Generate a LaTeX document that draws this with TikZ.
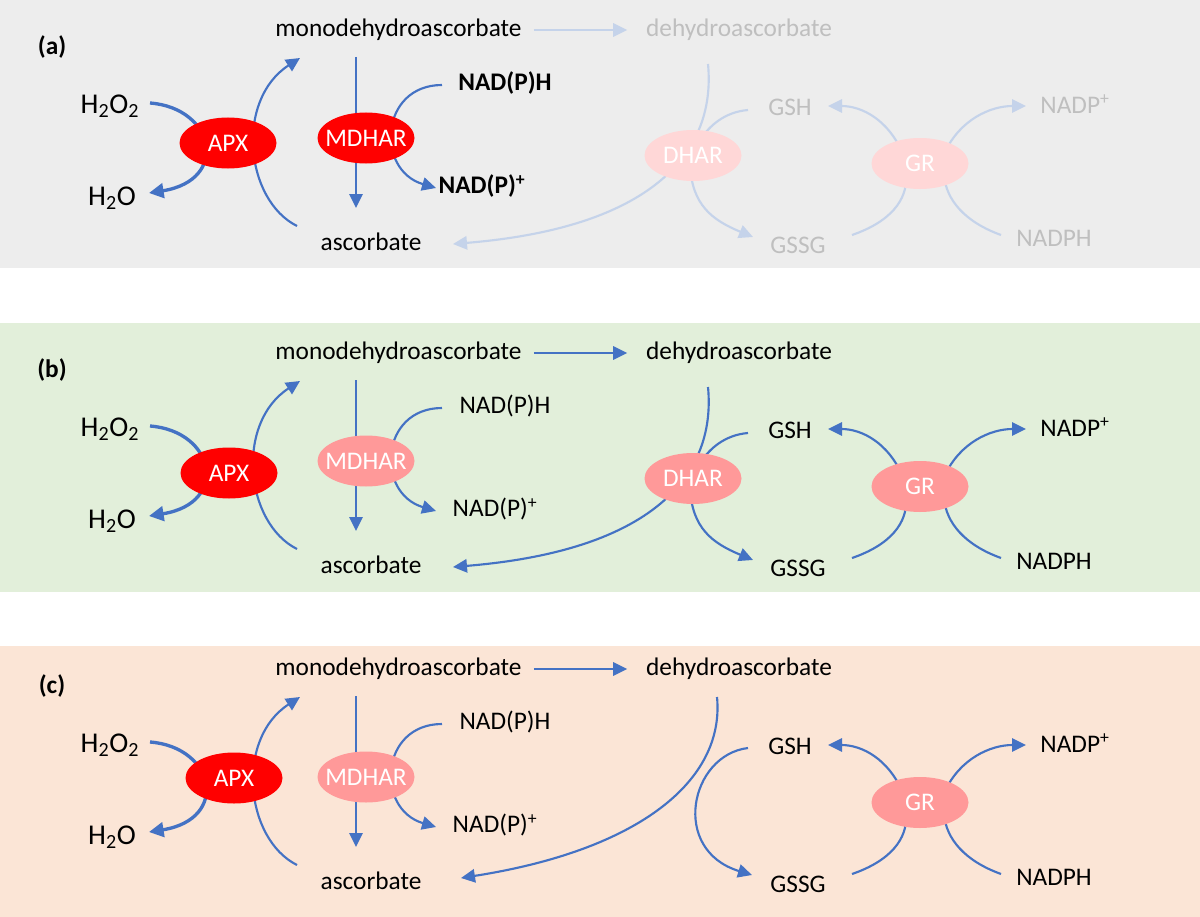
\documentclass[tikz,border=0pt]{standalone}
\usepackage{fontspec}
\setmainfont{Carlito}
\usetikzlibrary{arrows.meta,shapes.geometric}
\definecolor{blu}{HTML}{4472C4}
\definecolor{fblu}{HTML}{C5D3EA}
\definecolor{ftxt}{HTML}{BFBFBF}
\definecolor{redA}{HTML}{FF0000}
\definecolor{pinkA}{HTML}{FF9999}
\definecolor{fpink}{HTML}{FFD7D7}
\definecolor{bga}{HTML}{EDEDED}
\definecolor{bgb}{HTML}{E2EFDA}
\definecolor{bgc}{HTML}{FBE5D6}
\newcommand\fs{\fontsize{19}{22}\selectfont}
\newcommand\fbig{\fontsize{21.5}{24}\selectfont}
\newcommand\zb[1]{\makebox[0pt]{#1}}
\tikzset{
  ln/.style={draw=#1, line width=1.6pt},
  ln/.default=blu,
  arr/.style={ln=#1, -{Triangle[length=10.5pt,width=10pt]}},
  arr/.default=blu,
  tkarr/.style={draw=blu, line width=2.5pt, -{Triangle[length=11pt,width=11pt]}},
  enz/.style={ellipse, fill=#1, draw=none, minimum width=72.75pt, minimum height=38.25pt, inner sep=0pt, text=white, font=\fs},
  lbl/.style={inner sep=0pt, font=\fs, text=#1},
  lbl/.default=black,
  bigl/.style={inner sep=0pt, font=\fbig},
  panellbl/.style={inner sep=0pt, font=\fs\bfseries}
}
% #1 suffix, #2 apx x, #3 apx y, #4 mdhar fill, #5 NAD font, #6 panel label, #7 NAD(P)+ x
\newcommand\leftpart[7]{%
  \coordinate (h2o2s#1) at (150,103);
  \coordinate (h2ot#1) at (149,193);
  \coordinate (ascs#1) at (297,226);
  \coordinate (monot#1) at (300,58);
  \coordinate (mdtop#1) at (356,57);
  \coordinate (mdbot#1) at (356,208);
  \coordinate (nadhs#1) at (442,85);
  \coordinate (nadpt#1) at (436,188);
  \draw[tkarr] (h2o2s#1) .. controls (215,108) and (230,180) .. (h2ot#1);
  \draw[arr] (ascs#1) .. controls (245,200) and (235,100) .. (monot#1);
  \draw[arr] (mdtop#1) -- (mdbot#1);
  \draw[arr] (nadhs#1) .. controls (380,85) and (375,170) .. (nadpt#1);
  \node[bigl] (h2o2#1) at (110,106) {H\textsubscript{2}O\textsubscript{2}};
  \node[bigl] (h2o#1) at (112,198) {H\textsubscript{2}O};
  \node[lbl] (mono#1) at (398.5,30) {monodehydroascorbate};
  \node[lbl] (asc#1) at (371,242) {ascorbate};
  \node[lbl,font=\fs#5] (nadh#1) at (505,83) {NAD(P)H};
  \node[lbl,font=\fs#5] (nadp#1) at (#7,186) {NAD(P)\textsuperscript{+}};
  \node[enz=redA] (apx#1) at (#2,#3) {\zb{APX}};
  \node[enz=#4] (mdhar#1) at (366,138) {\zb{MDHAR}};
  \node[panellbl] (lab#1) at (52,47) {#6};
}
% #1 suffix, #2 line colour, #3 text colour, #4 enzyme fill
\newcommand\grpart[4]{%
  \coordinate (grgs#1) at (902,152);
  \coordinate (gsht#1) at (828,106);
  \coordinate (grns#1) at (945,152);
  \coordinate (nadpxt#1) at (1026,106);
  \coordinate (gssgs#1) at (852,235);
  \coordinate (grinl#1) at (906,175);
  \coordinate (nadphs#1) at (1001,235);
  \coordinate (grinr#1) at (944,175);
  \draw[arr=#2] (grgs#1) .. controls (888,120) and (862,106) .. (gsht#1);
  \draw[arr=#2] (grns#1) .. controls (960,120) and (990,106) .. (nadpxt#1);
  \draw[ln=#2] (gssgs#1) .. controls (890,222) and (908,200) .. (grinl#1);
  \draw[ln=#2] (nadphs#1) .. controls (965,222) and (946,200) .. (grinr#1);
  \node[lbl=#3] (gsh#1) at (790,107) {GSH};
  \node[lbl=#3] (gssg#1) at (798,245) {GSSG};
  \node[lbl=#3] (nadpx#1) at (1075,104) {NADP\textsuperscript{+}};
  \node[lbl=#3] (nadph#1) at (1054,238) {NADPH};
  \node[lbl=#3] (dha#1) at (739,30) {dehydroascorbate};
  \draw[arr=#2, shorten <=9pt, shorten >=14pt] (mono#1.east) -- (dha#1.west);
  \node[enz=#4] (gr#1) at (920,163.5) {\zb{GR}};
}
\newcommand\dharpart[4]{%
  \coordinate (dhs#1) at (708,64);
  \coordinate (asct#1) at (453,244);
  \coordinate (gshs#1) at (748,110);
  \coordinate (dhin#1) at (700,140);
  \coordinate (dhout#1) at (690,165);
  \coordinate (gssgt#1) at (753,237);
  \draw[arr=#2] (dhs#1) .. controls (716,147) and (660,227) .. (asct#1);
  \draw[ln=#2] (gshs#1) .. controls (725,112) and (710,125) .. (dhin#1);
  \draw[arr=#2] (dhout#1) .. controls (692,205) and (712,220) .. (gssgt#1);
  \node[enz=#4] (dhar#1) at (693,155.5) {\zb{DHAR}};
}
\begin{document}
\begin{tikzpicture}[x=0.75pt,y=-0.75pt]
\useasboundingbox (0,0) rectangle (1200,917);
\fill[bga] (0,0) rectangle (1200,268);
\fill[bgb] (0,323) rectangle (1200,592);
\fill[bgc] (0,646) rectangle (1200,917);
% panel (a)
\begin{scope}
  \leftpart{a}{228}{143}{redA}{\bfseries}{(a)}{482}
  \grpart{a}{fblu}{ftxt}{fpink}
  \dharpart{a}{fblu}{ftxt}{fpink}
\end{scope}
% panel (b)
\begin{scope}[shift={(0,323)}]
  \leftpart{b}{229}{150}{pinkA}{}{(b)}{495}
  \grpart{b}{blu}{black}{pinkA}
  \dharpart{b}{blu}{black}{pinkA}
\end{scope}
% panel (c)
\begin{scope}[shift={(0,639)}]
  \leftpart{c}{234}{139}{pinkA}{}{(c)}{495}
  \grpart{c}{blu}{black}{pinkA}
  \coordinate (dhsc) at (717,58);
  \coordinate (asctc) at (461,239);
  \coordinate (gshsc) at (748,109);
  \coordinate (gssgtc) at (752,236);
  \draw[arr] (dhsc) .. controls (725,141) and (640,211) .. (asctc);
  \draw[arr] (gshsc) .. controls (690,116) and (670,211) .. (gssgtc);
\end{scope}
\end{tikzpicture}
\end{document}
